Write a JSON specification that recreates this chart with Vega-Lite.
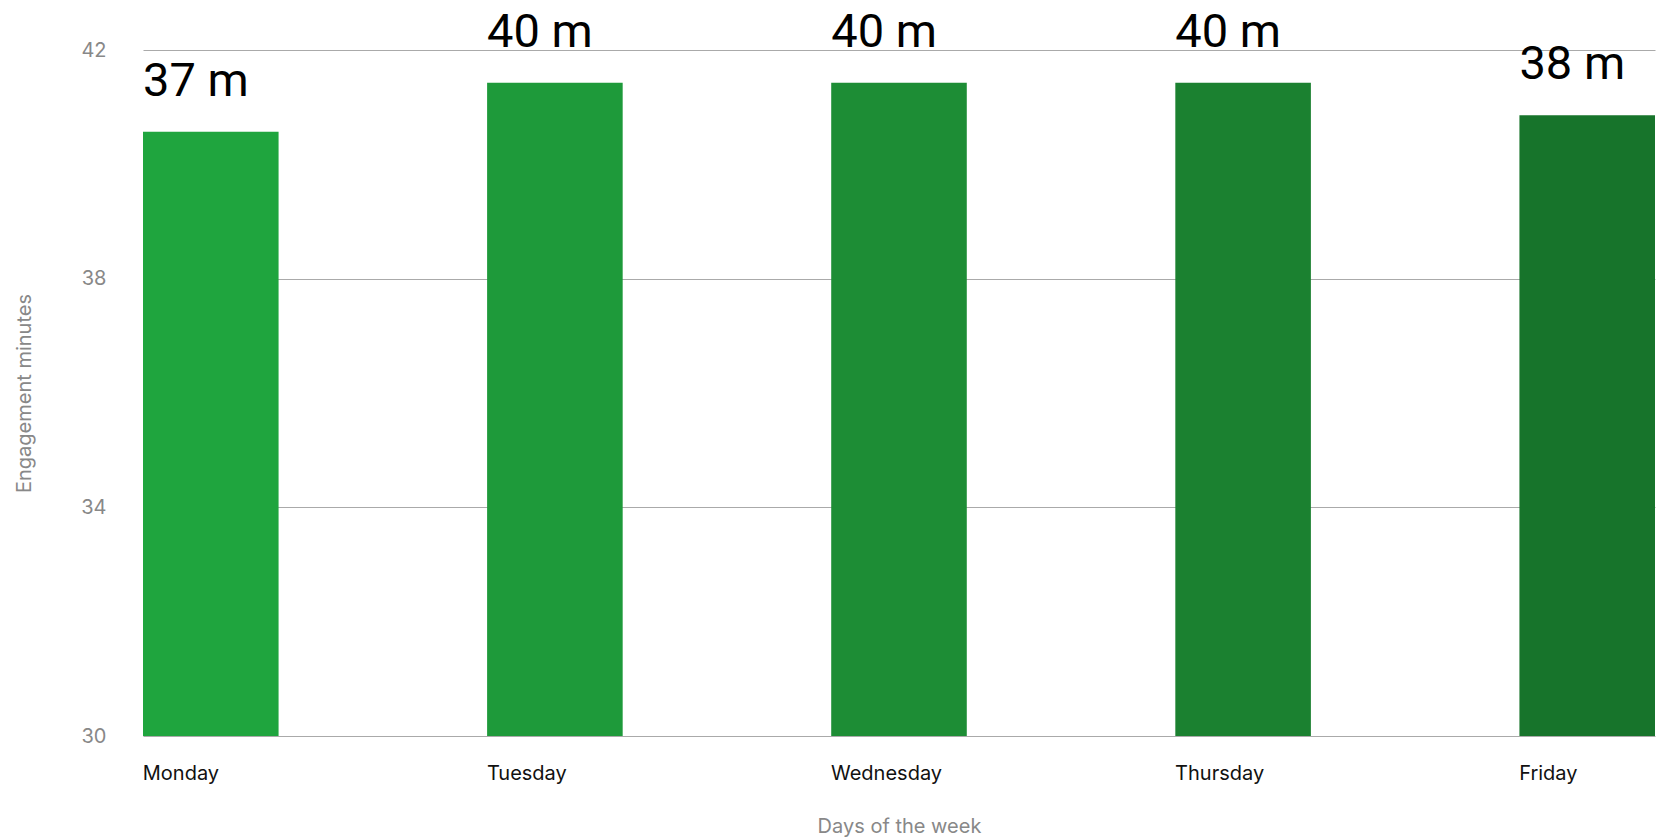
{
  "$schema": "https://vega.github.io/schema/vega-lite/v6.json",
  "autosize": {"type": "none"},
  "padding": {"left": 143, "top": 50, "right": 5, "bottom": 104},
  "width": 1512,
  "height": 686,
  "background": "white",
  "config": {
    "view": {"stroke": null},
    "font": "Inter"
  },
  "data": {
    "values": [
      {"day": "Monday", "minutes": 37},
      {"day": "Tuesday", "minutes": 40},
      {"day": "Wednesday", "minutes": 40},
      {"day": "Thursday", "minutes": 40},
      {"day": "Friday", "minutes": 38}
    ]
  },
  "transform": [{"calculate": "datum.minutes + ' m'", "as": "label"}],
  "encoding": {
    "x": {
      "field": "day",
      "type": "nominal",
      "sort": null,
      "scale": {"paddingInner": 0.606, "paddingOuter": 0},
      "axis": {
        "title": "Days of the week",
        "labelAlign": "left",
        "labelAngle": 0,
        "labelOffset": -68,
        "labelBaseline": "alphabetic",
        "labelPadding": 43,
        "labelFont": "Inter",
        "labelFontSize": 20,
        "labelColor": "#111111",
        "ticks": false,
        "tickSize": 0,
        "domain": false,
        "grid": false,
        "titleFont": "Inter",
        "titleFontSize": 20,
        "titleFontWeight": "normal",
        "titleColor": "#888888",
        "titleBaseline": "alphabetic",
        "titleY": 96
      }
    }
  },
  "layer": [
    {
      "mark": {"type": "bar"},
      "encoding": {
        "y": {
          "field": "minutes",
          "type": "quantitative",
          "scale": {"domain": [0, 42], "nice": false, "zero": true},
          "axis": {
            "title": "Engagement minutes",
            "values": [0, 14, 28, 42],
            "labelExpr": "format(30 + datum.value * 2 / 7, 'd')",
            "labelFont": "Inter",
            "labelFontSize": 20,
            "labelColor": "#888888",
            "labelPadding": 37,
            "ticks": false,
            "tickSize": 0,
            "domain": false,
            "grid": true,
            "gridColor": "#aaaaaa",
            "gridWidth": 1.2,
            "titleFont": "Inter",
            "titleFontSize": 20,
            "titleFontWeight": "normal",
            "titleColor": "#888888",
            "titleAngle": -90,
            "titleAlign": "center",
            "titleBaseline": "middle",
            "titleX": -119,
            "titleY": 343
          }
        },
        "color": {
          "field": "day",
          "type": "nominal",
          "sort": null,
          "scale": {
            "domain": ["Monday", "Tuesday", "Wednesday", "Thursday", "Friday"],
            "range": ["#1fa53e", "#1e9a3a", "#1d8d35", "#1b8130", "#17742b"]
          },
          "legend": null
        }
      }
    },
    {
      "mark": {
        "type": "text",
        "align": "left",
        "baseline": "alphabetic",
        "dy": -36,
        "font": "Roboto",
        "fontSize": 47,
        "color": "#000000"
      },
      "encoding": {
        "x": {"field": "day", "type": "nominal", "sort": null, "bandPosition": 0},
        "y": {"field": "minutes", "type": "quantitative"},
        "text": {"field": "label"}
      }
    }
  ]
}
